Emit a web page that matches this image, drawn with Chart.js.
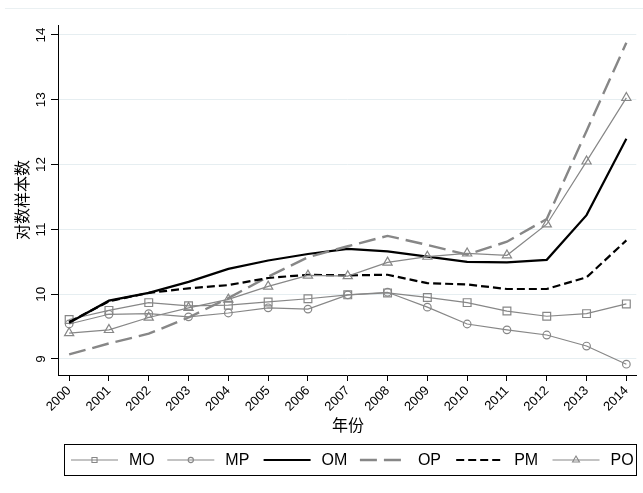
<!DOCTYPE html>
<html>
<head>
<meta charset="utf-8">
<script src="https://cdn.jsdelivr.net/npm/chart.js@4.4.0/dist/chart.umd.min.js"></script>
<style>
  html, body { margin: 0; padding: 0; background: #fff; }
  #wrap { width: 643px; height: 493px; }
</style>
</head>
<body>
<div id="wrap"><canvas id="c" width="643" height="493"></canvas></div>
<script>
// data
const years = ['2000','2001','2002','2003','2004','2005','2006','2007','2008','2009','2010','2011','2012','2013','2014'];
const yTicks = [9, 10, 11, 12, 13, 14];

const MO = [9.61, 9.75, 9.87, 9.82, 9.83, 9.88, 9.93, 9.99, 10.02, 9.95, 9.87, 9.74, 9.66, 9.70, 9.85];
const MP = [9.54, 9.69, 9.70, 9.65, 9.71, 9.79, 9.77, 9.99, 10.03, 9.80, 9.54, 9.45, 9.37, 9.20, 8.92];
const OM = [9.56, 9.90, 10.02, 10.19, 10.39, 10.52, 10.62, 10.70, 10.66, 10.58, 10.50, 10.49, 10.53, 11.22, 12.40];
const OP = [9.07, 9.24, 9.39, 9.64, 9.94, 10.27, 10.57, 10.74, 10.90, 10.76, 10.61, 10.81, 11.16, 12.52, 13.88];
const PM = [9.57, 9.89, 10.02, 10.09, 10.14, 10.25, 10.30, 10.29, 10.30, 10.17, 10.15, 10.08, 10.08, 10.26, 10.83];
const PO = [9.40, 9.45, 9.64, 9.79, 9.92, 10.12, 10.29, 10.28, 10.49, 10.58, 10.63, 10.60, 11.08, 12.05, 13.03];

const GRAY = '#878787';
const FONT = "'Liberation Sans', Arial, sans-serif";
const CJK = "'Noto Sans CJK SC', sans-serif";

function pts(arr){
  return arr.map((v, i) => ({ x: i, y: v }));
}

// style per series: [label, data, color, width, dash, pointStyle, radius, legendRadius]
const series = [
  ['MO', MO, GRAY, 1.2, [], 'rect', 5.5, 3.6],
  ['MP', MP, GRAY, 1.2, [], 'circle', 3.8, 2.6],
  ['OM', OM, '#000', 2.2, [], false, 0, 0],
  ['OP', OP, GRAY, 2.4, [17, 7], false, 0, 0],
  ['PM', PM, '#000', 2.2, [8, 4], false, 0, 0],
  ['PO', PO, GRAY, 1.2, [], 'triangle', 5.3, 4]
];

const datasets = series.map((s, i) => ({
  label: s[0],
  data: pts(s[1]),
  borderColor: s[2],
  borderWidth: s[3],
  borderDash: s[4],
  pointStyle: s[5] || 'circle',
  pointRadius: s[6],
  pointBorderColor: s[2],
  pointBorderWidth: 1.2,
  pointBackgroundColor: 'rgba(0,0,0,0)',
  backgroundColor: 'rgba(0,0,0,0)',
  tension: 0,
  fill: false,
  order: series.length - i
}));

const paper = {
  id: 'paper',
  beforeDraw(chart){
    const ctx = chart.ctx;
    ctx.save();
    ctx.fillStyle = '#fff';
    ctx.fillRect(0, 0, chart.width, chart.height);
    ctx.strokeStyle = '#eaf0f2';
    ctx.lineWidth = 1;
    ctx.beginPath();
    ctx.moveTo(5, 8.5);
    ctx.lineTo(643, 8.5);
    ctx.stroke();
    ctx.restore();
  },
  afterDraw(chart){
    const ctx = chart.ctx;
    const ys = chart.scales.y;
    ctx.save();
    ctx.fillStyle = '#000';

    // y tick labels, rotated like the original
    ctx.font = '13.5px ' + FONT;
    ctx.textAlign = 'center';
    ctx.textBaseline = 'middle';
    yTicks.forEach(v => {
      const py = ys.getPixelForValue(v);
      ctx.save();
      ctx.translate(41, py);
      ctx.rotate(-Math.PI / 2);
      ctx.fillText(String(v), 0, 0);
      ctx.restore();
    });

    // axis titles
    ctx.font = '16px ' + CJK;
    ctx.save();
    ctx.translate(22, (chart.chartArea.top + chart.chartArea.bottom) / 2);
    ctx.rotate(-Math.PI / 2);
    ctx.fillText('对数样本数', 0, 0);
    ctx.restore();
    ctx.fillText('年份', 348, 425);

    // legend box
    ctx.strokeStyle = '#000';
    ctx.lineWidth = 1;
    ctx.strokeRect(64.5, 444.5, 572, 31);
    const ly = 460;
    series.forEach((s, i) => {
      const x0 = 71 + i * 96.3;
      ctx.save();
      ctx.strokeStyle = s[2];
      ctx.lineWidth = s[3];
      ctx.setLineDash(s[4]);
      ctx.beginPath();
      ctx.moveTo(x0, ly);
      ctx.lineTo(x0 + 47, ly);
      ctx.stroke();
      ctx.setLineDash([]);
      if (s[5]) {
        ctx.fillStyle = 'rgba(0,0,0,0)';
        ctx.lineWidth = 1.1;
        Chart.helpers.drawPoint(ctx, { pointStyle: s[5], rotation: 0, radius: s[7], borderWidth: 1.1 }, x0 + 23.5, ly);
      }
      ctx.restore();
      ctx.font = '16px ' + FONT;
      ctx.textAlign = 'left';
      ctx.fillText(s[0], x0 + 58, ly + 1);
    });
    ctx.restore();
  }
};

new Chart(document.getElementById('c').getContext('2d'), {
  type: 'line',
  data: { datasets },
  plugins: [paper],
  options: {
    responsive: false,
    animation: false,
    devicePixelRatio: 1,
    layout: { padding: { top: 25, right: 6, left: 0, bottom: 0 } },
    plugins: { legend: { display: false }, tooltip: { enabled: false } },
    scales: {
      x: {
        type: 'linear',
        min: -0.28,
        max: 14.25,
        afterBuildTicks: s => { s.ticks = years.map((y, i) => ({ value: i })); },
        afterFit: s => { s.height = 118; },
        ticks: {
          callback: (v, i) => years[i],
          minRotation: 45,
          maxRotation: 45,
          autoSkip: false,
          color: '#000',
          padding: 2,
          font: { family: FONT, size: 13 }
        },
        grid: { drawOnChartArea: false, tickColor: '#000', tickLength: 6 },
        border: { color: '#000', width: 1 }
      },
      y: {
        type: 'linear',
        min: 8.753,
        max: 14.154,
        afterBuildTicks: s => { s.ticks = yTicks.map(v => ({ value: v })); },
        afterFit: s => { s.width = 58; },
        ticks: { display: false },
        grid: { color: '#e6eef1', tickColor: '#000', tickLength: 7 },
        border: { color: '#000', width: 1 }
      }
    }
  }
});
</script>
</body>
</html>
